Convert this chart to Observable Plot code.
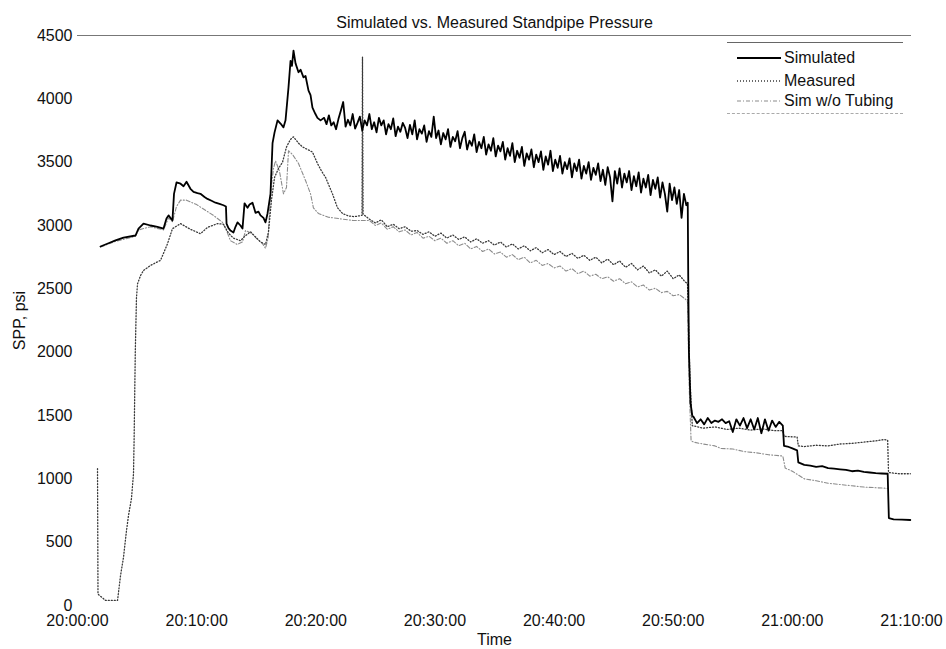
<!DOCTYPE html>
<html><head><meta charset="utf-8">
<script src="https://cdn.jsdelivr.net/npm/d3@7"></script>
<script src="https://cdn.jsdelivr.net/npm/@observablehq/plot@0.6"></script>
<style>
body{margin:0;background:#fff;font-family:"Liberation Sans",Arial,Helvetica,sans-serif;}
#wrap{position:relative;width:946px;height:649px;overflow:hidden;}
#legend{position:absolute;left:727px;top:42px;width:176px;height:70px;border-top:1px solid #666;border-bottom:1px dashed #aaa;font-size:16px;color:#111;}
#legend .row{position:absolute;left:8px;height:20px;display:flex;align-items:center;}
#legend svg{width:46px;height:20px;margin-right:3px;}
</style></head><body>
<div id="wrap"><div id="chart"></div><div id="legend"></div></div>
<script>
// ---- DATA (time in minutes after 20:00:00, value in psi) ----
const title = "Simulated vs. Measured Standpipe Pressure";
const seriesNames = ["Simulated", "Measured", "Sim w/o Tubing"];
const xTickLabels = ["20:00:00","20:10:00","20:20:00","20:30:00","20:40:00","20:50:00","21:00:00","21:10:00"];
const yTicks = [0,500,1000,1500,2000,2500,3000,3500,4000,4500];

const simulated = [
 [1.93,2834],[2.6,2860],[3.19,2882],[3.86,2905],[4.87,2921],[5.12,2976],[5.54,3015],[6.13,3000],[6.71,2990],[7.22,2976],
 [7.47,3055],[7.64,3080],[7.97,3040],[8.1,3250],[8.31,3340],[8.65,3330],[8.9,3310],[9.15,3345],[9.48,3290],[9.74,3265],
 [10.07,3255],[10.32,3250],[10.66,3225],[10.91,3210],[11.25,3195],[11.58,3180],[11.92,3170],[12.25,3160],[12.46,3150],[12.51,3015],
 [12.67,2980],[12.84,2960],[13.09,2945],[13.26,2990],[13.43,3025],[13.68,3000],[13.85,2976],[14.02,3175],[14.27,3140],[14.44,3165],
 [14.69,3180],[14.94,3100],[15.19,3110],[15.36,3080],[15.61,3060],[15.78,3025],[15.95,3095],[16.2,3250],[16.37,3650],[16.54,3735],
 [16.79,3830],[17.04,3805],[17.29,3775],[17.46,3830],[17.71,4090],[17.88,4300],[18.0,4260],[18.13,4380],[18.3,4280],[18.55,4210],
 [18.72,4230],[18.97,4170],[19.14,4180],[19.39,4065],[19.56,4030],[19.72,3930],[19.97,3880],[20.14,3850],[20.4,3830],
 [20.7,3850],[20.9,3800],[21.1,3870],[21.3,3790],[21.5,3815],[21.7,3760],[21.9,3840],
 [22.1,3905],[22.3,3975],[22.5,3780],[22.7,3835],[22.9,3790],[23.1,3880],[23.3,3765],[23.5,3810],[23.7,3860],[23.9,3750],
 [24.1,3830],[24.3,3790],[24.5,3880],[24.7,3760],[24.9,3815],[25.1,3735],[25.3,3850],[25.5,3790],[25.7,3830],[25.9,3720],
 [26.1,3800],[26.3,3760],[26.5,3845],[26.7,3705],[26.9,3780],[27.1,3740],[27.3,3810],[27.5,3770],[27.7,3690],[27.9,3795],
 [28.1,3720],[28.3,3830],[28.5,3680],[28.7,3760],[28.9,3725],[29.1,3790],[29.3,3660],[29.5,3745],[29.7,3700],[29.9,3860],
 [30.1,3690],[30.3,3750],[30.5,3640],[30.7,3730],[30.9,3680],[31.1,3760],[31.3,3620],[31.5,3700],[31.7,3665],[31.9,3745],
 [32.1,3610],[32.3,3690],[32.5,3740],[32.7,3600],[32.9,3670],[33.1,3630],[33.3,3720],[33.5,3580],[33.7,3660],[33.9,3610],
 [34.1,3700],[34.3,3560],[34.5,3640],[34.7,3590],[34.9,3690],[35.1,3545],[35.3,3630],[35.5,3585],[35.7,3660],[35.9,3520],
 [36.1,3610],[36.3,3550],[36.5,3650],[36.7,3500],[36.9,3590],[37.1,3535],[37.3,3620],[37.5,3470],[37.7,3570],[37.9,3520],
 [38.1,3600],[38.3,3460],[38.5,3560],[38.7,3500],[38.9,3585],[39.1,3440],[39.3,3545],[39.5,3480],[39.7,3590],[39.9,3430],
 [40.1,3520],[40.3,3455],[40.5,3550],[40.7,3410],[40.9,3500],[41.1,3445],[41.3,3530],[41.5,3380],[41.7,3490],[41.9,3430],
 [42.1,3520],[42.3,3370],[42.5,3470],[42.7,3410],[42.9,3500],[43.1,3360],[43.3,3455],[43.5,3400],[43.7,3490],[43.9,3350],
 [44.1,3440],[44.3,3320],[44.5,3460],[44.7,3380],[44.9,3190],[45.1,3430],[45.3,3330],[45.5,3450],[45.7,3300],[45.9,3410],
 [46.1,3340],[46.3,3430],[46.5,3280],[46.7,3390],[46.9,3310],[47.1,3420],[47.3,3260],[47.5,3370],[47.7,3300],[47.9,3400],
 [48.1,3240],[48.3,3360],[48.5,3290],[48.7,3380],[48.9,3220],[49.1,3340],[49.3,3250],[49.5,3110],[49.7,3330],[49.9,3200],
 [50.1,3300],[50.3,3170],[50.5,3280],[50.7,3060],[50.9,3250],[51.1,3160],[51.22,3180],[51.26,2600],[51.32,2000],[51.45,1600],[51.6,1500],
 [51.7,1490],[52.0,1440],[52.3,1470],[52.6,1430],[52.9,1480],[53.2,1440],[53.5,1460],[53.8,1450],[54.1,1470],[54.4,1440],
 [54.7,1455],[55.0,1370],[55.3,1470],[55.6,1420],[55.9,1480],[56.2,1400],[56.5,1470],[56.8,1390],[57.1,1480],[57.4,1360],
 [57.7,1470],[58.0,1380],[58.3,1460],[58.6,1410],[58.9,1450],[59.2,1420],[59.3,1260],[59.6,1255],[60.0,1240],[60.4,1225],
 [60.5,1130],[61.0,1110],[61.5,1105],[62.0,1095],[62.5,1100],[63.0,1085],[63.5,1080],[64.0,1075],[64.5,1070],[65.0,1060],
 [65.5,1065],[66.0,1055],[66.5,1050],[67.0,1045],[67.5,1042],[68.0,1040],[68.1,690],[68.5,680],[69.2,678],[69.9,675]
];

const measured = [
 [1.68,1080],[1.7,600],[1.72,90],[2.35,40],[3.36,40],[3.61,235],[3.86,380],[4.11,590],[4.28,710],[4.53,845],
 [4.7,1040],[4.75,1300],[4.85,2000],[4.95,2430],[5.04,2540],[5.29,2605],[5.54,2645],[6.13,2685],[6.97,2725],[7.55,2855],
 [7.97,2975],[8.65,3015],[9.48,2970],[10.32,2935],[10.91,2985],[11.75,3015],[12.25,3010],[12.67,2940],[13.09,2900],[13.68,2880],
 [14.1,2920],[14.52,2950],[14.94,2910],[15.36,2870],[15.78,2850],[16.03,2950],[16.28,3200],[16.54,3380],[16.87,3450],[17.21,3500],
 [17.54,3620],[17.88,3680],[18.13,3700],[18.55,3650],[18.89,3620],[19.31,3600],[19.72,3580],[20.14,3490],[20.48,3430],[20.82,3380],
 [21.4,3250],[21.82,3140],[22.24,3095],[22.75,3075],[23.25,3070],[23.88,3080],[23.92,4330],[23.97,3090],
 [24.5,3050],[25.0,3020],[25.5,3045],[26.0,2990],[26.5,3010],[27.0,2975],[27.5,2990],[28.0,2955],[28.5,2960],[29.0,2930],
 [29.5,2950],[30.0,2915],[30.5,2940],[31.0,2900],[31.5,2925],[32.0,2890],[32.5,2910],[33.0,2870],[33.5,2895],[34.0,2860],
 [34.5,2880],[35.0,2845],[35.5,2870],[36.0,2830],[36.5,2855],[37.0,2815],[37.5,2840],[38.0,2800],[38.5,2825],[39.0,2785],
 [39.5,2810],[40.0,2770],[40.5,2795],[41.0,2755],[41.5,2780],[42.0,2740],[42.5,2765],[43.0,2725],[43.5,2750],[44.0,2705],
 [44.5,2735],[45.0,2690],[45.5,2720],[46.0,2670],[46.5,2700],[47.0,2650],[47.5,2680],[48.0,2625],[48.5,2650],[49.0,2600],
 [49.5,2640],[50.0,2580],[50.5,2610],[51.0,2555],[51.2,2540],[51.4,1800],[51.6,1420],[52.5,1400],[53.5,1410],[54.5,1390],
 [55.5,1400],[56.5,1385],[57.5,1395],[58.5,1380],[59.2,1380],[59.3,1335],[60.4,1330],[60.5,1260],[61.0,1255],[62.0,1265],
 [63.0,1260],[64.0,1275],[65.0,1280],[66.0,1290],[67.0,1300],[67.7,1310],[68.0,1305],[68.07,1050],[68.5,1045],[69.0,1040],[69.9,1040]
];

const simNoTubing = [
 [1.93,2830],[3.19,2875],[4.87,2915],[5.12,2965],[6.13,2990],[7.22,2965],[7.64,3060],[7.97,3030],[8.31,3150],[8.65,3200],
 [9.15,3200],[10.0,3165],[10.74,3120],[11.41,3080],[12.17,3025],[12.5,2960],[12.84,2880],[13.4,2850],[13.85,2870],[14.1,2960],
 [14.6,2940],[15.0,2900],[15.5,2860],[15.78,2820],[16.0,2900],[16.2,3250],[16.45,3450],[16.62,3510],[16.95,3430],[17.29,3250],
 [17.54,3300],[17.71,3590],[18.05,3560],[18.55,3490],[19.14,3355],[19.56,3250],[19.8,3140],[20.22,3095],[21.06,3065],[23.1,3040],
 [24.5,3040],[25.0,3000],[25.5,3020],[26.0,2970],[26.5,2990],[27.0,2950],[27.5,2965],[28.0,2925],[28.5,2945],[29.0,2900],
 [29.5,2915],[30.0,2880],[30.5,2900],[31.0,2860],[31.5,2880],[32.0,2840],[32.5,2860],[33.0,2815],[33.5,2835],[34.0,2795],
 [34.5,2815],[35.0,2775],[35.5,2790],[36.0,2750],[36.5,2770],[37.0,2730],[37.5,2750],[38.0,2705],[38.5,2725],[39.0,2685],
 [39.5,2700],[40.0,2665],[40.5,2680],[41.0,2640],[41.5,2660],[42.0,2620],[42.5,2640],[43.0,2600],[43.5,2615],[44.0,2580],
 [44.5,2595],[45.0,2560],[45.5,2580],[46.0,2540],[46.5,2555],[47.0,2515],[47.5,2530],[48.0,2490],[48.5,2505],[49.0,2470],
 [49.5,2480],[50.0,2445],[50.5,2455],[51.0,2420],[51.2,2400],[51.35,1700],[51.5,1300],[51.7,1290],[52.5,1275],[53.5,1260],
 [54.0,1240],[55.0,1235],[56.0,1215],[57.0,1205],[58.0,1190],[59.2,1180],[59.4,1085],[60.0,1060],[60.5,1030],[61.0,1000],
 [62.0,985],[63.0,965],[64.0,955],[65.0,945],[66.0,935],[67.0,930],[68.0,925]
];

// ---- BUILD ----
const t0 = Date.UTC(2000, 0, 1, 20, 0, 0);
const toDate = m => new Date(t0 + m * 60000);
const parseTick = s => { const [h, mi, se] = s.split(":").map(Number); return new Date(Date.UTC(2000, 0, 1, h, mi, se)); };
const rows = (arr, name) => arr.map(([m, v]) => ({time: toDate(m), v, series: name}));
const simRows = rows(simulated, seriesNames[0]);
const measRows = rows(measured, seriesNames[1]);
const woRows = rows(simNoTubing, seriesNames[2]);
const xTicks = xTickLabels.map(parseTick);

const styles = {
  [seriesNames[0]]: {stroke: "#000", strokeWidth: 1.8, dash: null},
  [seriesNames[1]]: {stroke: "#3a3a3a", strokeWidth: 1.3, dash: "1,2"},
  [seriesNames[2]]: {stroke: "#8c8c8c", strokeWidth: 1.1, dash: "4,2,1,2"}
};

const chart = Plot.plot({
  width: 946, height: 649,
  marginLeft: 77, marginRight: 35, marginTop: 35, marginBottom: 44,
  style: {fontFamily: "'Liberation Sans', Arial, Helvetica, sans-serif", fontSize: "16px", background: "white", color: "#111"},
  x: {type: "utc", domain: [xTicks[0], xTicks[xTicks.length - 1]]},
  y: {domain: [0, 4500]},
  marks: [
    Plot.ruleY([4500], {stroke: "#777", strokeWidth: 1}),
    Plot.line(woRows, {x: "time", y: "v", stroke: styles[seriesNames[2]].stroke, strokeWidth: styles[seriesNames[2]].strokeWidth, strokeDasharray: styles[seriesNames[2]].dash}),
    Plot.line(measRows, {x: "time", y: "v", stroke: styles[seriesNames[1]].stroke, strokeWidth: styles[seriesNames[1]].strokeWidth, strokeDasharray: styles[seriesNames[1]].dash}),
    Plot.line(simRows, {x: "time", y: "v", stroke: styles[seriesNames[0]].stroke, strokeWidth: styles[seriesNames[0]].strokeWidth, strokeLinejoin: "round"}),
    Plot.axisX({ticks: xTicks, tickFormat: d3.utcFormat("%H:%M:%S"), tickSize: 0, tickPadding: 9, label: "Time", labelAnchor: "center", labelOffset: 39, labelArrow: false}),
    Plot.axisY({ticks: yTicks, tickFormat: d3.format("d"), tickSize: 0, tickPadding: 5, label: "SPP, psi", labelAnchor: "center", labelOffset: 64, labelArrow: false}),
    Plot.text([title], {frameAnchor: "top", dy: -19, fontSize: 16, fill: "#111"})
  ]
});
document.getElementById("chart").appendChild(chart);

// ---- LEGEND ----
const legend = document.getElementById("legend");
const rowTops = [5, 28, 48];
seriesNames.forEach((name, i) => {
  const st = styles[name];
  const row = document.createElement("div");
  row.className = "row";
  row.style.top = rowTops[i] + "px";
  row.innerHTML = `<svg viewBox="0 0 46 20"><line x1="2" x2="46" y1="10" y2="10" stroke="${st.stroke}" stroke-width="${st.strokeWidth}" ${st.dash ? `stroke-dasharray="${st.dash}"` : ""}/></svg><span>${name}</span>`;
  legend.appendChild(row);
});
</script>
</body></html>
